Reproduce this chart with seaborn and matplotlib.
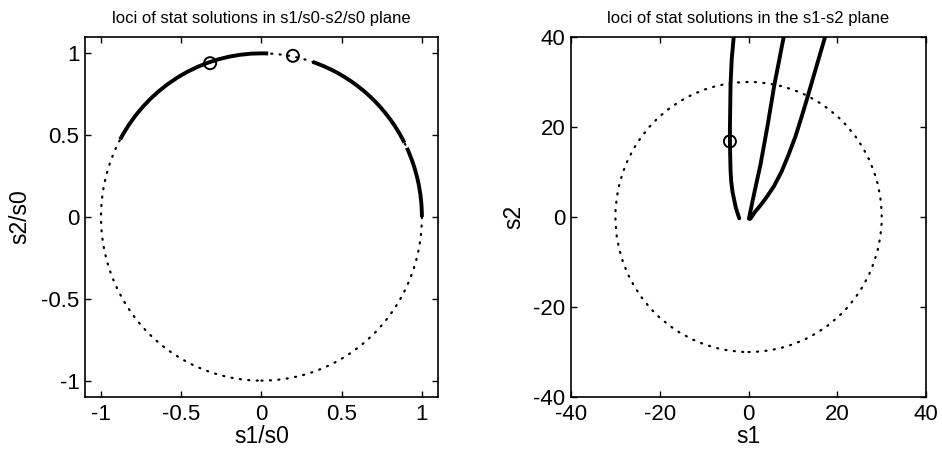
import matplotlib
matplotlib.use("Agg")
import matplotlib.pyplot as plt
from matplotlib.patches import Arc, Circle
from matplotlib.markers import MarkerStyle
import seaborn as sns

# ---------------- data ----------------
# Left panel: normalised loci on the unit circle (s1/s0, s2/s0)
unit_radius = 1.0
arc_start_deg = [0.0, 27.0, 87.6]
arc_end_deg = [25.0, 71.4, 151.7]
left_marker_x = [-0.32, 0.196]
left_marker_y = [0.94, 0.985]
left_ticks = [-1, -0.5, 0, 0.5, 1]
left_tick_labels = ["-1", "-0.5", "0", "0.5", "1"]

# Right panel: loci in the s1-s2 plane
ref_radius = 30.0
branch1_x = [-2.1, -2.5, -2.9, -3.6, -3.9, -4.06, -4.2, -4.2, -4.15, -4.06, -3.8, -3.4, -3.3]
branch1_y = [-0.3, 0.9, 2.2, 5.5, 7.8, 10.3, 16.5, 20.0, 23.0, 29.3, 35.0, 39.4, 41.0]
branch2_x = [0.07, 1.3, 2.7, 4.3, 5.8, 7.8, 8.1]
branch2_y = [-0.4, 5.4, 11.7, 20.4, 29.3, 39.4, 41.0]
branch3_x = [0.4, 1.5, 2.7, 4.2, 5.7, 7.4, 9.0, 10.6, 12.0, 13.1, 15.1, 17.0, 17.5]
branch3_y = [-0.4, 1.2, 2.6, 4.6, 6.8, 10.0, 13.8, 18.0, 22.4, 26.0, 32.8, 39.2, 41.0]
right_marker_x = [-4.2]
right_marker_y = [16.8]
right_ticks = [-40, -20, 0, 20, 40]

left_title = "loci of stat solutions in s1/s0-s2/s0 plane"
right_title = "loci of stat solutions in the s1-s2 plane"

# ---------------- style ----------------
sns.set_theme(style="white")
plt.rcParams["font.family"] = ["Liberation Sans", "DejaVu Sans"]
plt.rcParams["axes.unicode_minus"] = False
plt.rcParams["xtick.direction"] = "in"
plt.rcParams["ytick.direction"] = "in"
plt.rcParams["text.color"] = "black"
plt.rcParams["axes.labelcolor"] = "black"
plt.rcParams["axes.titlecolor"] = "black"

fig = plt.figure(figsize=(9.42, 4.55), dpi=100)
axL = fig.add_axes([0.0902, 0.1275, 0.3747, 0.7912])
axR = fig.add_axes([0.6062, 0.1275, 0.3769, 0.7912])

dot_kw = dict(fill=False, edgecolor="black", linewidth=1.6,
              linestyle=(0, (0.5, 3.3)))
thick_lw = 2.8
open_circle = MarkerStyle("o", fillstyle="none")
tick_fs = 16
label_fs = 16.5
title_fs = 12

# Left panel
axL.add_patch(Circle((0, 0), unit_radius, capstyle="round", **dot_kw))
for t1, t2 in zip(arc_start_deg, arc_end_deg):
    axL.add_patch(Arc((0, 0), 2 * unit_radius, 2 * unit_radius,
                      theta1=t1, theta2=t2, color="black", linewidth=thick_lw))
sns.scatterplot(x=left_marker_x, y=left_marker_y, marker=open_circle,
                color="black", s=75, linewidth=1.4, ax=axL, zorder=5)
axL.set_xlim(-1.1, 1.1)
axL.set_ylim(-1.1, 1.1)
axL.set_xticks(left_ticks)
axL.set_xticklabels(left_tick_labels)
axL.set_yticks(left_ticks)
axL.set_yticklabels(left_tick_labels)
axL.set_xlabel("s1/s0", fontsize=label_fs, labelpad=0, color="black")
axL.set_ylabel("s2/s0", fontsize=label_fs, labelpad=7, color="black")
axL.set_title(left_title, fontsize=title_fs, pad=10, color="black")

# Right panel
axR.add_patch(Circle((0, 0), ref_radius, capstyle="round", **dot_kw))
for bx, by in [(branch1_x, branch1_y), (branch2_x, branch2_y),
               (branch3_x, branch3_y)]:
    sns.lineplot(x=bx, y=by, sort=False, estimator=None, color="black",
                 linewidth=thick_lw, ax=axR)
sns.scatterplot(x=right_marker_x, y=right_marker_y, marker=open_circle,
                color="black", s=75, linewidth=1.4, ax=axR, zorder=5)
axR.set_xlim(-40, 40)
axR.set_ylim(-40, 40)
axR.set_xticks(right_ticks)
axR.set_yticks(right_ticks)
axR.set_xlabel("s1", fontsize=label_fs, labelpad=0, color="black")
axR.set_ylabel("s2", fontsize=label_fs, labelpad=6, color="black")
axR.set_title(right_title, fontsize=title_fs, pad=10, color="black")

for ax in (axL, axR):
    for sp in ax.spines.values():
        sp.set_visible(True)
        sp.set_color("black")
        sp.set_linewidth(1.2)
    ax.tick_params(axis="both", which="both", direction="in", length=4,
                   width=1, colors="black", labelsize=tick_fs, top=True,
                   right=True, bottom=True, left=True)
    ax.tick_params(axis="x", pad=5)
    ax.tick_params(axis="y", pad=4)
    ax.set_facecolor("white")

fig.savefig("out.png", dpi=100, facecolor="white")
